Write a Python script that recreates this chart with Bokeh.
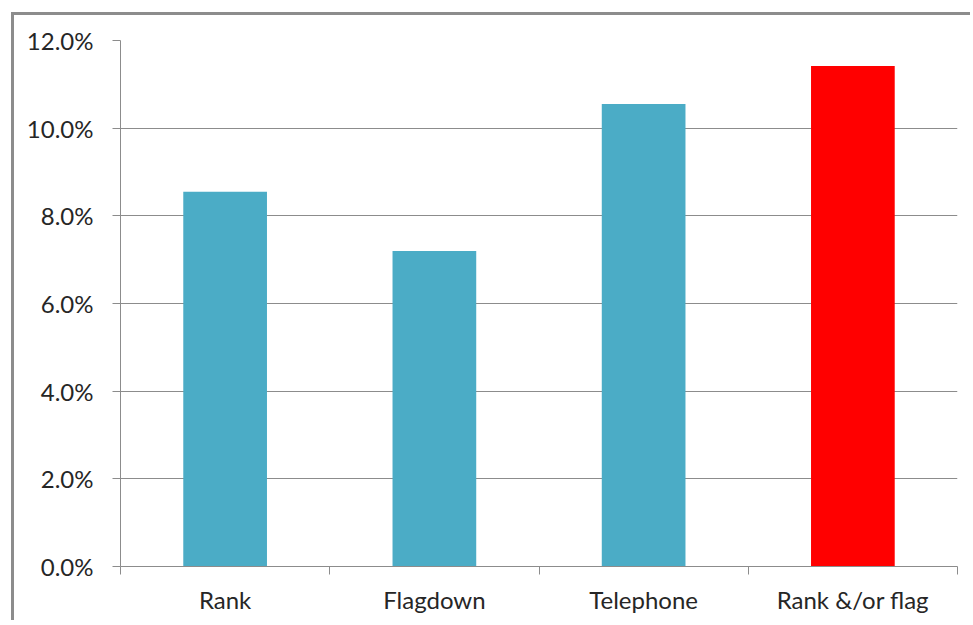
from bokeh.plotting import figure
from bokeh.models import FixedTicker, NumeralTickFormatter, Range1d
from bokeh.embed import file_html
from bokeh.resources import INLINE

categories = ["Rank", "Flagdown", "Telephone", "Rank &/or flag"]
values = [0.0855, 0.0720, 0.1055, 0.1142]
colors = ["#4BACC6", "#4BACC6", "#4BACC6", "#FF0000"]
y_ticks = [0.0, 0.02, 0.04, 0.06, 0.08, 0.10, 0.12]

FONT = "Lato"
TXT = "#262626"
GRID = "#8c8c8c"

p = figure(width=959, height=608, output_backend="svg", toolbar_location=None,
           x_range=Range1d(0, len(categories)), y_range=Range1d(0, 0.12),
           min_border_left=106, min_border_top=25, min_border_right=16, min_border_bottom=57,
           styles={"border-top": "3px solid #8c8c8c", "border-left": "3px solid #8c8c8c",
                   "margin-left": "11px", "margin-top": "12px"})
p.outline_line_color = None

xs = [i + 0.5 for i in range(len(categories))]
p.vbar(x=xs, top=values, width=0.4, bottom=0, color=colors, line_color=None)

# y axis
p.yaxis.ticker = FixedTicker(ticks=y_ticks, minor_ticks=[])
p.yaxis.formatter = NumeralTickFormatter(format="0.0%")
p.yaxis.axis_line_color = GRID
p.yaxis.major_tick_line_color = GRID
p.yaxis.major_tick_out = 8
p.yaxis.major_tick_in = 0
p.yaxis.major_label_standoff = 19
p.yaxis.major_label_text_font = FONT
p.yaxis.major_label_text_font_size = "24px"
p.yaxis.major_label_text_color = TXT

# x axis
p.xaxis.ticker = FixedTicker(ticks=xs, minor_ticks=list(range(len(categories) + 1)))
p.xaxis.major_label_overrides = {x: c for x, c in zip(xs, categories)}
p.xaxis.axis_line_color = GRID
p.xaxis.major_tick_line_color = None
p.xaxis.major_tick_out = 0
p.xaxis.minor_tick_line_color = GRID
p.xaxis.minor_tick_out = 8
p.xaxis.minor_tick_in = 0
p.xaxis.major_label_standoff = 10
p.xaxis.major_label_text_font = FONT
p.xaxis.major_label_text_font_size = "24px"
p.xaxis.major_label_text_color = TXT

p.xgrid.visible = False
p.ygrid.ticker = FixedTicker(ticks=y_ticks)
p.ygrid.grid_line_color = GRID
p.ygrid.grid_line_width = 1

open("out.html", "w").write(file_html(p, INLINE))
